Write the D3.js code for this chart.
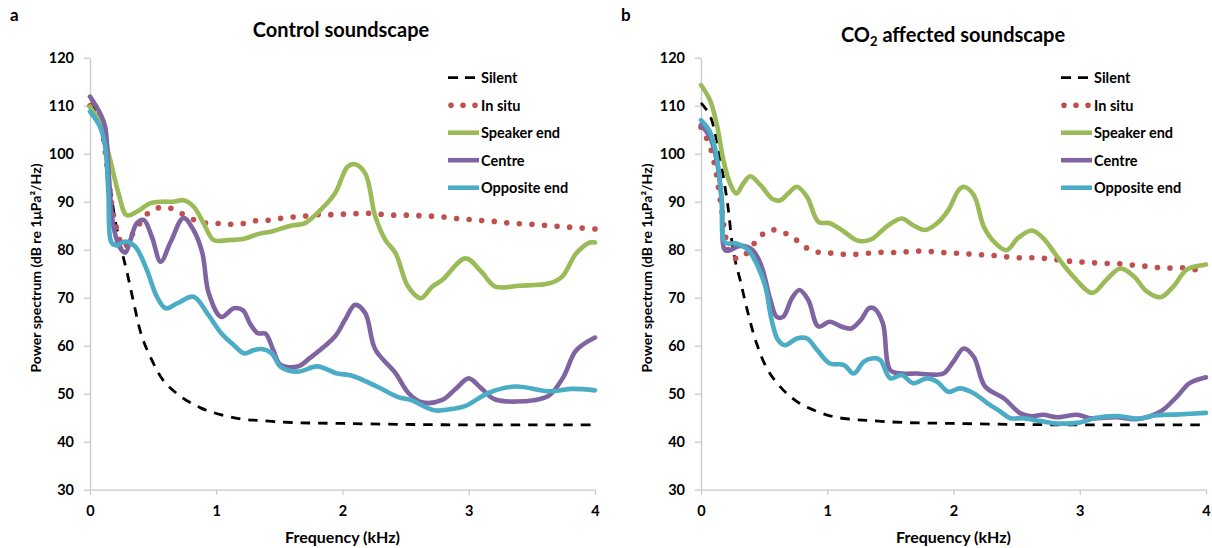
<!DOCTYPE html>
<html>
<head>
<meta charset="utf-8">
<script src="https://cdn.jsdelivr.net/npm/d3@7"></script>
<style>
  html, body { margin: 0; padding: 0; background: #fff; }
  svg { display: block; font-family: Lato, "Open Sans", "DejaVu Sans", sans-serif; font-weight: 700; }
</style>
</head>
<body>
<svg id="chart" width="1212" height="548"></svg>
<script>
// ---- Power spectra, frequency in kHz, level in dB re 1 µPa²/Hz ----

// Control soundscape
const ctrlSilentF = [0,0.05,0.1,0.15,0.2,0.25,0.3,0.35,0.41,0.49,0.58,0.72,0.88,1.04,1.2,1.35,1.6,2.0,2.5,3.0,3.5,4.0];
const ctrlSilentDb = [110.5,108.5,104,95,86,80,74.5,68.5,62,57,52.8,49.4,47,45.6,44.7,44.4,44,43.8,43.6,43.5,43.5,43.5];

const ctrlInSituF = [0,0.05,0.1,0.15,0.2,0.27,0.33,0.39,0.45,0.54,0.63,0.72,0.82,0.9,1.0,1.1,1.2,1.3,1.4,1.5,1.6,1.7,1.8,1.9,2.0,2.1,2.2,2.3,2.4,2.5,2.6,2.7,2.8,2.9,3.0,3.1,3.2,3.3,3.4,3.5,3.6,3.7,3.8,3.9,4.0];
const ctrlInSituDb = [110,108.5,104,94,85.5,80.5,83,85.3,87.4,88.7,88.7,87.6,86.3,85.6,85.5,85.3,85.4,86,86.1,86.5,86.8,87,87.3,87.3,87.4,87.5,87.6,87.4,87.2,87.2,87.1,87,86.8,86.5,86.3,86.1,85.9,85.6,85.4,85.3,85.1,84.9,84.7,84.5,84.3];

const ctrlSpeakerF = [0,0.08,0.16,0.226,0.29,0.37,0.48,0.58,0.66,0.74,0.82,0.9,0.98,1.09,1.22,1.35,1.44,1.59,1.7,1.8,1.94,2.04,2.1,2.18,2.26,2.34,2.42,2.52,2.62,2.71,2.79,2.975,3.1,3.21,3.4,3.64,3.74,3.85,3.96,4.0];
const ctrlSpeakerDb = [109.8,106.3,98.7,91.7,87.2,87.9,89.7,90,90,90.3,89,85.5,82,82,82.3,83.4,83.8,85,85.5,87.6,91.7,97.3,97.8,95.9,86.9,82,79.3,72.3,69.9,72.3,73.7,78.2,75.4,72.3,72.5,73,74.4,79.2,81.5,81.5];

const ctrlCentreF = [0,0.08,0.12,0.146,0.186,0.24,0.28,0.32,0.37,0.425,0.49,0.56,0.64,0.74,0.82,0.89,0.94,1.04,1.14,1.21,1.27,1.33,1.39,1.45,1.51,1.65,1.74,1.94,2.02,2.1,2.18,2.26,2.42,2.52,2.63,2.79,2.9,3.0,3.1,3.21,3.53,3.64,3.75,3.85,4.0];
const ctrlCentreDb = [111.9,108.4,105.6,96.6,84.8,80.3,79.4,82,85.5,86.2,82.7,77.5,81.7,86.6,84.1,79.3,71,66,67.8,67.4,64.5,62.6,62.5,59.2,56,55.7,57.4,61.9,65.4,68.5,66.8,59.2,54.3,50.2,48.2,48.7,51.1,53.2,51.1,48.8,48.7,49.7,53.5,59,61.7];

const ctrlOppositeF = [0,0.08,0.12,0.146,0.17,0.21,0.28,0.36,0.45,0.53,0.6,0.69,0.82,0.93,1.04,1.14,1.22,1.3,1.36,1.44,1.51,1.65,1.8,1.96,2.07,2.28,2.44,2.55,2.65,2.74,2.86,2.97,3.16,3.37,3.64,3.82,4.0];
const ctrlOppositeDb = [108.8,105.6,101.5,91.7,81.5,80.9,81.7,80.6,75.8,70.2,67.8,68.8,70.2,66.7,62.6,60.1,58.4,59.1,59.3,58.4,55.6,54.6,55.7,54.2,53.8,51.4,49.3,48.6,47.3,46.5,46.8,47.4,50.2,51.5,50.5,51,50.7];

// CO2 affected soundscape
const co2SilentF = [0,0.07,0.124,0.177,0.217,0.243,0.27,0.31,0.36,0.44,0.53,0.65,0.78,0.92,1.05,1.18,1.34,1.6,2.0,2.5,3.0,3.5,4.0];
const co2SilentDb = [110.6,108,102.8,95.2,88.3,82,77.8,73.7,68.1,60.5,54.9,50.8,48,46.3,45.2,44.7,44.4,44,43.8,43.6,43.5,43.5,43.5];

const co2InSituF = [0,0.03,0.08,0.12,0.16,0.2,0.24,0.3,0.335,0.4,0.46,0.54,0.63,0.72,0.8,0.88,0.98,1.07,1.17,1.27,1.37,1.47,1.57,1.67,1.77,1.87,1.97,2.07,2.16,2.26,2.36,2.46,2.56,2.66,2.76,2.86,2.96,3.05,3.15,3.25,3.35,3.45,3.55,3.65,3.75,3.85,3.95,4.0];
const co2InSituDb = [105.5,104,100.8,96,89,82,78.5,78.2,78.5,80.6,82.5,84.1,83.8,82.7,81.1,79.7,79.4,79.2,79,79.1,79.4,79.5,79.4,79.7,79.7,79.5,79.3,79.2,79,78.9,78.7,78.4,78.3,78.3,78.1,77.8,77.5,77.4,77.2,77.1,77,76.7,76.5,76.2,76.2,76.2,75.6,75.5];

const co2SpeakerF = [0,0.07,0.124,0.177,0.23,0.28,0.335,0.39,0.47,0.57,0.63,0.69,0.76,0.84,0.93,1.02,1.13,1.23,1.3,1.365,1.47,1.59,1.68,1.775,1.87,1.96,2.04,2.08,2.16,2.24,2.32,2.42,2.51,2.62,2.71,2.82,2.95,3.1,3.21,3.32,3.43,3.53,3.64,3.74,3.85,3.98,4.0];
const co2SpeakerDb = [114.3,111.2,106.3,98.7,93.8,91.7,93.8,95.3,93.5,90.5,90.3,91.7,93.1,91,85.8,85.5,83.8,82,81.8,82.4,84.8,86.5,85.1,84.1,85.5,88.3,92.4,93.1,91.4,84.8,81.7,79.9,82.4,84,82.4,78.6,74.4,71,73.7,76.1,74.4,71.3,70.1,72.3,75.9,76.8,76.9];

const co2CentreF = [0,0.07,0.124,0.164,0.19,0.23,0.31,0.41,0.48,0.55,0.6,0.65,0.72,0.78,0.85,0.93,1.02,1.11,1.19,1.27,1.33,1.37,1.44,1.5,1.6,1.71,1.81,1.92,2.0,2.08,2.16,2.25,2.4,2.53,2.62,2.71,2.82,2.98,3.08,3.29,3.45,3.64,3.77,3.87,3.98,4.0];
const co2CentreDb = [106,103.5,98.7,90.3,79.9,79.9,80.8,79.9,76.5,69.5,66,66,69.9,71.6,69.5,64,65,64,63.6,65.5,67.8,67.8,64.7,54.9,54.2,54.2,54,54.2,56.7,59.4,57.7,51.5,49,45.9,45.3,45.6,45.1,45.6,44.9,45.1,44.7,46.3,49.4,52.2,53.3,53.4];

const co2OppositeF = [0,0.07,0.124,0.164,0.19,0.28,0.375,0.45,0.51,0.56,0.61,0.665,0.76,0.84,0.92,1.02,1.13,1.21,1.29,1.365,1.42,1.5,1.59,1.68,1.79,1.87,1.96,2.05,2.16,2.27,2.37,2.45,2.55,2.69,2.82,3.0,3.13,3.32,3.45,3.61,3.79,4.0];
const co2OppositeDb = [107,104.6,99.4,90.3,81.5,81.3,79.9,76.5,72.3,65.3,61.2,60.1,61.5,61.5,59.1,56.3,56,54.2,56.7,57.4,57,53.2,53.9,52.2,53.2,52.5,50.4,51.1,50.1,48,46.3,44.9,44.9,44.3,43.8,44,45,45.3,44.8,45.5,45.7,46];

// Axis ticks and legend labels
const freqTicks = [0, 1, 2, 3, 4];
const levelTicks = [30, 40, 50, 60, 70, 80, 90, 100, 110, 120];
const seriesNames = ["Silent", "In situ", "Speaker end", "Centre", "Opposite end"];

// ---- Styles per series ----
const seriesStyle = {
  "Silent":       { color: "#000000", width: 2.8, dash: "9.5 8",  cap: "butt" },
  "In situ":      { color: "#C0504D", width: 5.6, dash: "0 12.6", cap: "round" },
  "Speaker end":  { color: "#9BBB59", width: 4.6, dash: null,     cap: "round" },
  "Centre":       { color: "#8064A2", width: 4.6, dash: null,     cap: "round" },
  "Opposite end": { color: "#4BACC6", width: 4.6, dash: null,     cap: "round" }
};

const panels = [
  {
    letter: "a", left: 90, right: 595, titleX: 341, titleY: 36.5, yLabelX: 41,
    legendX: 448, title: [["Control soundscape", false]],
    series: [
      [ctrlSilentF, ctrlSilentDb], [ctrlInSituF, ctrlInSituDb], [ctrlSpeakerF, ctrlSpeakerDb],
      [ctrlCentreF, ctrlCentreDb], [ctrlOppositeF, ctrlOppositeDb]
    ]
  },
  {
    letter: "b", left: 701, right: 1206, titleX: 953, titleY: 42, yLabelX: 652,
    legendX: 1061, title: [["CO", false], ["2", true], [" affected soundscape", false]],
    series: [
      [co2SilentF, co2SilentDb], [co2InSituF, co2InSituDb], [co2SpeakerF, co2SpeakerDb],
      [co2CentreF, co2CentreDb], [co2OppositeF, co2OppositeDb]
    ]
  }
];

const plotTop = 57.7, plotBottom = 489.7;
const axisGrey = "#C9C9C9";
const svg = d3.select("#chart");

panels.forEach(p => {
  const x = d3.scaleLinear().domain([0, 4]).range([p.left, p.right]);
  const y = d3.scaleLinear().domain([30, 120]).range([plotBottom, plotTop]);
  const g = svg.append("g");

  // panel letter
  g.append("text").attr("x", p.left - 80).attr("y", 21)
    .attr("font-size", 17).text(p.letter);

  // title
  const t = g.append("text").attr("x", p.titleX).attr("y", p.titleY)
    .attr("text-anchor", "middle").attr("font-size", 20);
  p.title.forEach(([s, sub]) => {
    const ts = t.append("tspan").text(s);
    if (sub) ts.attr("font-size", 13).attr("dy", 4);
    else if (s.startsWith(" ")) ts.attr("dy", -4);
  });

  // y axis
  const yAxis = g.append("g").attr("transform", `translate(${p.left},0)`)
    .call(d3.axisLeft(y).tickValues(levelTicks).tickSize(6).tickSizeOuter(0).tickPadding(10));
  // x axis
  const xAxis = g.append("g").attr("transform", `translate(0,${plotBottom})`)
    .call(d3.axisBottom(x).tickValues(freqTicks).tickFormat(d3.format("d"))
      .tickSize(5).tickSizeOuter(0).tickPadding(11));
  [yAxis, xAxis].forEach(a => {
    a.attr("font-family", null);
    a.select(".domain").attr("stroke", axisGrey).attr("stroke-width", 1.3);
    a.selectAll(".tick line").attr("stroke", axisGrey).attr("stroke-width", 1.3);
    a.selectAll(".tick text").attr("fill", "#000").attr("font-size", 14.5)
      .attr("font-weight", 700);
  });

  // axis titles
  g.append("text").attr("x", (p.left + p.right) / 2).attr("y", 543)
    .attr("text-anchor", "middle").attr("font-size", 16).text("Frequency (kHz)");
  g.append("text")
    .attr("transform", `translate(${p.yLabelX},268) rotate(-90)`)
    .attr("text-anchor", "middle").attr("font-size", 14)
    .text("Power spectrum (dB re 1\u03BCPa\u00B2/Hz)");

  // curves
  const line = d3.line()
    .x(d => x(d[0])).y(d => y(d[1]))
    .curve(d3.curveCatmullRom.alpha(0.5));
  p.series.forEach(([fs, dbs], i) => {
    const st = seriesStyle[seriesNames[i]];
    const pts = fs.map((f, k) => [f, dbs[k]]);
    g.append("path").datum(pts).attr("d", line)
      .attr("fill", "none").attr("stroke", st.color).attr("stroke-width", st.width)
      .attr("stroke-linecap", st.cap).attr("stroke-linejoin", "round")
      .attr("stroke-dasharray", st.dash);
  });

  // legend
  seriesNames.forEach((name, i) => {
    const st = seriesStyle[name];
    const ly = 77.7 + i * 27.5;
    g.append("line")
      .attr("x1", name === "In situ" ? p.legendX + 3 : p.legendX)
      .attr("x2", p.legendX + 31).attr("y1", ly).attr("y2", ly)
      .attr("stroke", st.color).attr("stroke-width", st.width)
      .attr("stroke-linecap", name === "In situ" ? "round" : "butt")
      .attr("stroke-dasharray", name === "Silent" ? "10 7" : (name === "In situ" ? "0 12" : null));
    g.append("text").attr("x", p.legendX + 33).attr("y", ly + 5.5)
      .attr("font-size", 14.5).text(name);
  });
});
</script>
</body>
</html>
